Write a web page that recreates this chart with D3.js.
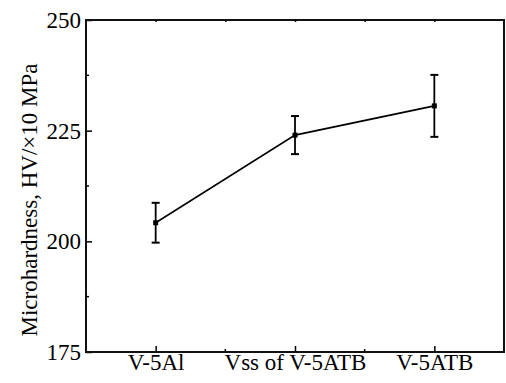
<!DOCTYPE html>
<html>
<head>
<meta charset="utf-8">
<script src="https://cdn.jsdelivr.net/npm/d3@7"></script>
<style>
  body { margin: 0; background: #fff; }
  svg { display: block; }
  text { font-family: "Liberation Serif", "Times New Roman", serif; fill: #000; }
</style>
</head>
<body>
<svg width="506" height="383"></svg>
<script>
// values
var samples = ["V-5Al", "Vss of V-5ATB", "V-5ATB"];
var hardness = [204.2, 224.0, 230.6];
var errLow = [199.7, 219.7, 223.6];
var errHigh = [208.7, 228.3, 237.6];
var yTicks = [175, 200, 225, 250];
var yMinor = [187.5, 212.5, 237.5];

var svg = d3.select("svg");
var margin = { left: 86, right: 2, top: 20, bottom: 31 };
var W = 506, H = 383;

var x = d3.scaleLinear().domain([0.5, 3.5]).range([margin.left, W - margin.right]);
var y = d3.scaleLinear().domain([175, 250]).range([H - margin.bottom, margin.top]);

var g = {
  axes: svg.append("g").attr("id", "axes"),
  data: svg.append("g").attr("id", "data"),
  frame: svg.append("g").attr("id", "frame")
};

// left axis, ticks inward
var left = g.axes.append("g")
  .attr("transform", "translate(" + margin.left + ",0)")
  .call(d3.axisLeft(y).tickValues(yTicks).tickSizeInner(-6).tickSizeOuter(0).tickPadding(5));
left.selectAll("text").style("font-size", "23px");
left.append("g").selectAll("line").data(yMinor).enter().append("line")
  .attr("x1", 0).attr("x2", 3)
  .attr("y1", function(d) { return y(d); }).attr("y2", function(d) { return y(d); })
  .attr("stroke", "#000");

// bottom axis
var xi = samples.map(function(d, i) { return i + 1; });
var bottom = g.axes.append("g")
  .attr("transform", "translate(0," + (H - margin.bottom) + ")")
  .call(d3.axisBottom(x).tickValues(xi).tickFormat(function(d) { return samples[d - 1]; })
    .tickSizeInner(-6).tickSizeOuter(0).tickPadding(2));
bottom.selectAll("text").style("font-size", "23px");
bottom.append("g").selectAll("line").data([1.5, 2.5]).enter().append("line")
  .attr("x1", function(d) { return x(d); }).attr("x2", function(d) { return x(d); })
  .attr("y1", 0).attr("y2", -3).attr("stroke", "#000");

// top axis tick marks only
var top = g.axes.append("g")
  .attr("transform", "translate(0," + margin.top + ")")
  .call(d3.axisTop(x).tickValues([1, 1.5, 2, 2.5, 3]).tickFormat("").tickSizeInner(-2).tickSizeOuter(0));

g.axes.selectAll(".domain").remove();
g.axes.selectAll("line").attr("stroke", "#000").attr("stroke-width", 1.5);

// frame
g.frame.append("rect")
  .attr("x", margin.left).attr("y", margin.top)
  .attr("width", W - margin.right - margin.left)
  .attr("height", H - margin.bottom - margin.top)
  .attr("fill", "none").attr("stroke", "#111").attr("stroke-width", 2);

// y label (sits a bit lower than the plot centre in the original)
svg.append("text")
  .attr("transform", "translate(37,200) rotate(-90)")
  .attr("text-anchor", "middle")
  .style("font-size", "23px")
  .text("Microhardness, HV/\u00d710 MPa");

// line
var pts = hardness.map(function(v, i) { return { x: i + 1, v: v, lo: errLow[i], hi: errHigh[i] }; });
var line = d3.line().x(function(d) { return x(d.x); }).y(function(d) { return y(d.v); });
g.data.append("path").datum(pts)
  .attr("d", line).attr("fill", "none").attr("stroke", "#000").attr("stroke-width", 1.6);

// error bars
var eb = g.data.selectAll("g.err").data(pts).enter().append("g").attr("class", "err");
eb.append("line")
  .attr("x1", function(d) { return x(d.x); }).attr("x2", function(d) { return x(d.x); })
  .attr("y1", function(d) { return y(d.lo); }).attr("y2", function(d) { return y(d.hi); })
  .attr("stroke", "#000").attr("stroke-width", 1.8);
["lo", "hi"].forEach(function(k) {
  eb.append("line")
    .attr("x1", function(d) { return x(d.x) - 4; }).attr("x2", function(d) { return x(d.x) + 4; })
    .attr("y1", function(d) { return y(d[k]); }).attr("y2", function(d) { return y(d[k]); })
    .attr("stroke", "#000").attr("stroke-width", 2);
});

// markers
g.data.selectAll("rect.pt").data(pts).enter().append("rect")
  .attr("class", "pt")
  .attr("x", function(d) { return x(d.x) - 2.5; })
  .attr("y", function(d) { return y(d.v) - 2.5; })
  .attr("width", 5).attr("height", 5)
  .attr("fill", "#000");
</script>
</body>
</html>
